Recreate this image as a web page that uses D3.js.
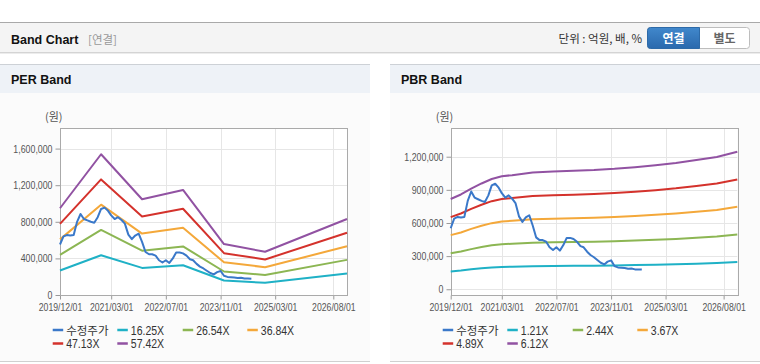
<!DOCTYPE html>
<html><head><meta charset="utf-8">
<script src="https://cdn.jsdelivr.net/npm/d3@7"></script>
<style>
html,body{margin:0;padding:0;background:#fff;}
svg{display:block;}
</style></head>
<body>
<svg id="c" width="760" height="364"></svg>
<script>
// ---------- DATA ----------
const xTickLabels = ["2019/12/01","2021/03/01","2022/07/01","2023/11/01","2025/03/01","2026/08/01"];
const axisStart = "2019/12/01", axisEnd = "2026/12/01";

// 수정주가 (monthly, from 2019/12)
const priceStart = "2019/12/01";
const priceValues = [552000,640000,655000,650000,655000,800000,885000,830000,815000,800000,790000,850000,
  940000,955000,920000,870000,830000,850000,820000,780000,660000,610000,650000,670000,
  580000,470000,445000,445000,430000,380000,355000,380000,350000,400000,465000,465000,
  455000,430000,390000,380000,340000,310000,290000,265000,240000,225000,250000,262000,
  210000,198000,195000,192000,185000,188000,180000,180000,178000];

// PER band
const perDates = ["2019/12/01","2020/12/01","2021/12/01","2022/12/01","2023/12/01","2024/12/01","2026/12/01"];
const perLabels = ["16.25X","26.54X","36.84X","47.13X","57.42X"];
const per1625 = [268000,435000,296000,325000,158000,134000,235000];
const per2654 = [438000,711000,484000,531000,257000,219000,384000];
const per3684 = [608000,987000,671000,736000,357000,304000,532000];
const per4713 = [778000,1263000,859000,942000,457000,388000,681000];
const per5742 = [948000,1538000,1046000,1148000,557000,473000,830000];
const perYTicks = [0,400000,800000,1200000,1600000];

// PBR band
const pbrDates = ["2019/12/01","2020/03/01","2020/06/01","2020/09/01","2020/12/01","2021/03/01","2021/06/01",
  "2021/12/01","2022/06/01","2022/12/01","2023/06/01","2023/12/01","2024/06/01","2024/12/01",
  "2025/06/01","2025/12/01","2026/06/01","2026/12/01"];
const pbrLabels = ["1.21X","2.44X","3.67X","4.89X","6.12X"];
const pbr121 = [161500,169600,180200,189400,197400,202300,204200,209000,210800,212000,213300,215500,218500,222000,226000,231400,236900,246100];
const pbr244 = [325700,342100,363300,381900,398000,408000,411900,421400,425100,427500,430200,434600,440700,447700,455800,466500,477800,496300];
const pbr367 = [490000,514500,546500,574400,598600,613600,619500,633800,639300,643000,647000,653600,662800,673500,685600,701700,718600,746500];
const pbr489 = [652800,685600,728100,765300,797600,817600,825400,844500,851800,856700,862100,870900,883100,897300,913500,935000,957500,994600];
const pbr612 = [817000,858000,911300,957800,998200,1023300,1033100,1056900,1066100,1072200,1079000,1090000,1105300,1123000,1143200,1170100,1198300,1244800];
const pbrYTicks = [0,300000,600000,900000,1200000];

const priceLabel = "수정주가";
const colors = ["#3a78c9","#1fb1c6","#8cb653","#f4a83a","#d4322c","#9152a2"];

// ---------- DRAW ----------
const parse = d3.timeParse("%Y/%m/%d");
const svg = d3.select("#c");
const FONT = "'Liberation Sans',Arial,sans-serif";
const KFONT = "'Noto Sans CJK KR','Liberation Sans',sans-serif";

function condense(sel, f){
  sel.each(function(){
    const w = this.getComputedTextLength();
    d3.select(this).attr("textLength", (w*f).toFixed(2)).attr("lengthAdjust","spacingAndGlyphs");
  });
}

// top header bar
svg.append("rect").attr("x",0).attr("y",22).attr("width",760).attr("height",30).attr("fill","#f4f4f4");
svg.append("line").attr("x1",0).attr("x2",760).attr("y1",22.5).attr("y2",22.5).attr("stroke","#a9a9a9");
svg.append("line").attr("x1",0).attr("x2",760).attr("y1",52.5).attr("y2",52.5).attr("stroke","#d4d4d4");
svg.append("line").attr("x1",0).attr("x2",760).attr("y1",53.5).attr("y2",53.5).attr("stroke","#ececec");
svg.append("text").attr("x",11).attr("y",44).attr("font-family",FONT)
  .attr("font-weight","bold").attr("font-size",12.5).attr("fill","#111").text("Band Chart");
svg.append("text").attr("x",88).attr("y",44).attr("font-family",KFONT)
  .attr("font-size",11.5).attr("fill","#999").text("[연결]");
svg.append("text").attr("x",642).attr("y",43).attr("text-anchor","end").attr("font-family",KFONT)
  .attr("font-size",11.5).attr("fill","#333").text("단위 : 억원, 배, %");
const grad = svg.append("defs").append("linearGradient").attr("id","bg").attr("x1",0).attr("x2",0).attr("y1",0).attr("y2",1);
grad.append("stop").attr("offset","0").attr("stop-color","#4188cc");
grad.append("stop").attr("offset","1").attr("stop-color","#2a69ad");
svg.append("rect").attr("x",647.5).attr("y",27.5).attr("width",102).attr("height",21).attr("rx",3)
  .attr("fill","#fff").attr("stroke","#bdbdbd");
svg.append("path").attr("d","M650.5,27.5 H699.5 V48.5 H650.5 Q647.5,48.5 647.5,45.5 V30.5 Q647.5,27.5 650.5,27.5 Z")
  .attr("fill","url(#bg)").attr("stroke","#2d6aa8");
svg.append("text").attr("x",673.5).attr("y",42.5).attr("text-anchor","middle").attr("font-family",KFONT)
  .attr("font-weight","bold").attr("font-size",12).attr("fill","#fff").text("연결");
svg.append("text").attr("x",724.5).attr("y",42.5).attr("text-anchor","middle").attr("font-family",KFONT)
  .attr("font-weight","bold").attr("font-size",12).attr("fill","#666").text("별도");

function drawPanel(px, pw, title, cfg){
  const g = svg.append("g");
  g.append("rect").attr("x",px).attr("y",64).attr("width",pw).attr("height",298).attr("fill","#fbfbfb");
  g.append("rect").attr("x",px).attr("y",64).attr("width",pw).attr("height",29).attr("fill","#eef2f7");
  g.append("line").attr("x1",px).attr("x2",px+pw).attr("y1",64.5).attr("y2",64.5).attr("stroke","#cdd1d6");
  g.append("line").attr("x1",px).attr("x2",px+pw).attr("y1",361.5).attr("y2",361.5).attr("stroke","#d0d0d0");
  g.append("text").attr("x",px+11).attr("y",84).attr("font-family",FONT)
    .attr("font-weight","bold").attr("font-size",12.5).attr("fill","#111").text(title);

  const x = d3.scaleTime().domain([parse(axisStart), parse(axisEnd)]).range([cfg.x0, cfg.x1]);
  const y = d3.scaleLinear().domain(cfg.yDomain).range([295, 128]);

  g.append("rect").attr("x",cfg.x0).attr("y",128).attr("width",cfg.x1-cfg.x0).attr("height",167).attr("fill","#fff");
  // grid
  g.selectAll(".hg").data(cfg.yTicks).join("line")
    .attr("x1",cfg.x0).attr("x2",cfg.x1).attr("y1",d=>Math.round(y(d))+0.5).attr("y2",d=>Math.round(y(d))+0.5)
    .attr("stroke","#e6e6e6");
  const xt = xTickLabels.map(parse);
  g.selectAll(".vg").data(xt).join("line")
    .attr("x1",d=>Math.round(x(d))+0.5).attr("x2",d=>Math.round(x(d))+0.5).attr("y1",128).attr("y2",295)
    .attr("stroke","#e6e6e6");

  // axes
  const ya = g.append("g").attr("transform",`translate(${Math.round(cfg.x0)+0.5},0)`)
    .call(d3.axisLeft(y).tickValues(cfg.yTicks).tickSize(5).tickPadding(3).tickFormat(d3.format(",")));
  ya.select(".domain").remove();
  ya.selectAll("line").attr("stroke","#999");
  ya.selectAll("text").attr("font-family",FONT).attr("font-size",11).attr("fill","#555").call(condense,0.8);
  const xa = g.append("g").attr("transform","translate(0,295.5)")
    .call(d3.axisBottom(x).tickValues(xt).tickSize(4).tickPadding(4).tickFormat(d3.timeFormat("%Y/%m/%d")));
  xa.select(".domain").remove();
  xa.selectAll("line").attr("stroke","#999");
  xa.selectAll("text").attr("font-family",FONT).attr("font-size",11).attr("fill","#555").call(condense,0.79);
  g.append("rect").attr("x",Math.round(cfg.x0)+0.5).attr("y",128.5).attr("width",Math.round(cfg.x1-cfg.x0)).attr("height",167)
    .attr("fill","none").attr("stroke","#aaa");
  g.append("text").attr("x",cfg.x0-15).attr("y",121).attr("font-family",KFONT).attr("font-size",11).attr("fill","#555").text("(원)");

  // lines
  const line = d3.line().x(d=>x(d[0])).y(d=>y(d[1]));
  const bandDates = cfg.dates.map(parse);
  const series = [];
  series.push(priceValues.map((v,i)=>[d3.timeMonth.offset(parse(priceStart), i), v]));
  cfg.bands.forEach(b => series.push(b.map((v,i)=>[bandDates[i], v])));
  const order = [1,2,3,4,5,0];
  order.forEach(i=>{
    g.append("path").attr("d",line(series[i])).attr("fill","none").attr("stroke",colors[i])
      .attr("stroke-width",2).attr("stroke-linejoin","round");
  });

  // legend
  const names = [priceLabel].concat(cfg.labels);
  const lx = [0,64.6,130,194.6];
  names.forEach((n,i)=>{
    const row = i<4?0:1, col = i<4?i:i-4;
    const gx = cfg.legendX + lx[col], gy = row===0?330:343.5;
    g.append("line").attr("x1",gx).attr("x2",gx+10.5).attr("y1",gy).attr("y2",gy)
      .attr("stroke",colors[i]).attr("stroke-width",2.5);
    const t = g.append("text").attr("x",gx+13.5).attr("y",gy+4.5)
      .attr("font-family", i===0?KFONT:FONT).attr("font-size",i===0?11.5:12.5).attr("fill","#333").text(n);
    if(i>0) t.call(condense,0.84);
  });
}

drawPanel(0, 370, "PER Band", {
  x0:60, x1:347, yDomain:[0,1825000], yTicks:perYTicks, dates:perDates,
  bands:[per1625,per2654,per3684,per4713,per5742], labels:perLabels, legendX:52.7
});
drawPanel(390, 370, "PBR Band", {
  x0:450.7, x1:737.3, yDomain:[-52000,1460000], yTicks:pbrYTicks, dates:pbrDates,
  bands:[pbr121,pbr244,pbr367,pbr489,pbr612], labels:pbrLabels, legendX:442.7
});
</script>
</body></html>
